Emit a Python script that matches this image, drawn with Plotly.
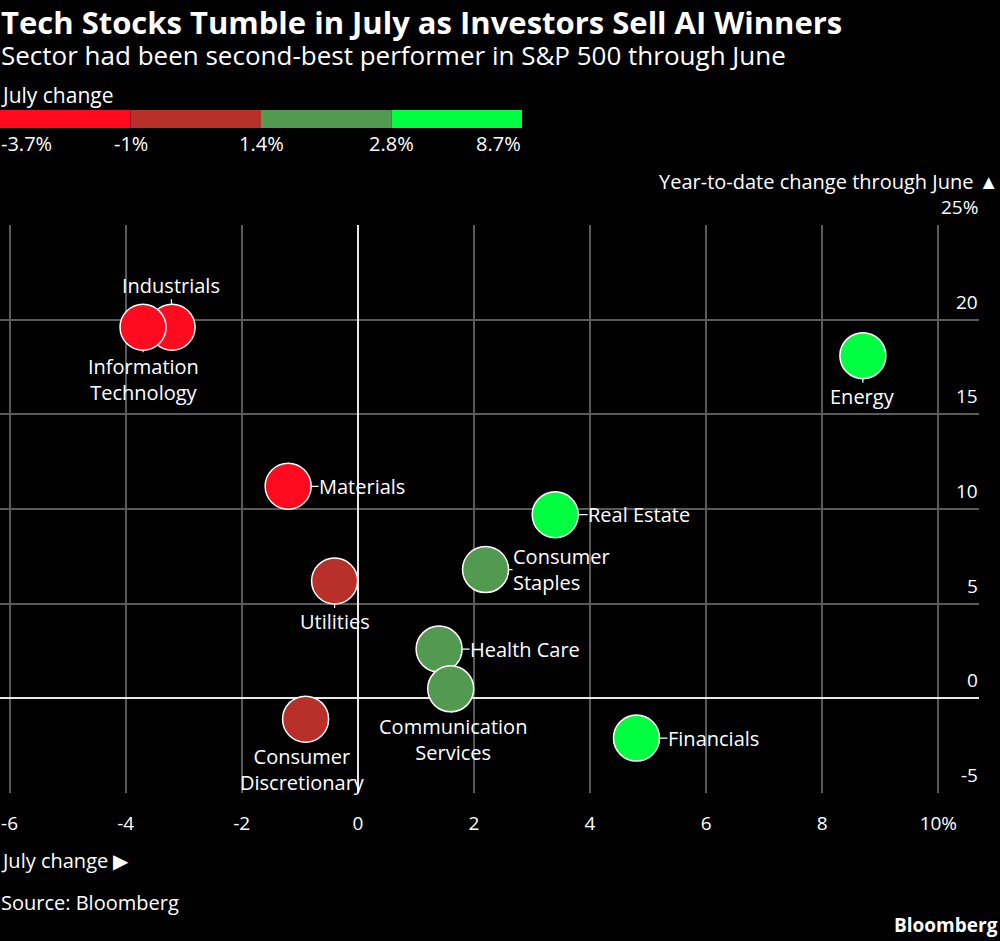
import plotly.graph_objects as go

# ---------------- data ----------------
sectors = ["Industrials", "Information Technology", "Energy", "Materials", "Real Estate",
           "Consumer Staples", "Utilities", "Health Care", "Communication Services",
           "Consumer Discretionary", "Financials"]
july_change = [-3.2, -3.7, 8.7, -1.2, 3.4, 2.2, -0.4, 1.4, 1.6, -0.9, 4.8]
ytd_june = [19.6, 19.6, 18.1, 11.2, 9.7, 6.8, 6.2, 2.6, 0.5, -1.1, -2.1]

bin_edges = [-3.7, -1, 1.4, 2.8, 8.7]
bin_labels = ["-3.7%", "-1%", "1.4%", "2.8%", "8.7%"]
bin_colors = ["#ff0a1e", "#b9302b", "#529a4f", "#00ff41"]

x_ticks = [-6, -4, -2, 0, 2, 4, 6, 8, 10]
x_ticktext = ["-6", "-4", "-2", "0", "2", "4", "6", "8", "10%"]
y_ticks = [-5, 0, 5, 10, 15, 20, 25]
y_ticktext = ["-5", "0", "5", "10", "15", "20", "25%"]

title = "Tech Stocks Tumble in July as Investors Sell AI Winners"
subtitle = "Sector had been second-best performer in S&P 500 through June"

# ---------------- styling / layout ----------------
FONT = "Open Sans"
W, H = 1000, 941
ML, MR, MT, MB = 0, 21, 225, 148
PW, PH = W - ML - MR, H - MT - MB

def px(xp):
    return (xp - ML) / PW

def py(yp):
    return (H - MB - yp) / PH

def color_for(v):
    for i in range(len(bin_colors)):
        if v < bin_edges[i + 1] or i == len(bin_colors) - 1:
            return bin_colors[i]

marker_colors = [color_for(v) for v in july_change]

# label placements (pixel offsets from the bubble centre)
label_layout = {
    "Industrials": dict(text="Industrials", ax=-1, ay=-42, align="center"),
    "Information Technology": dict(text="Information<br>Technology", ax=0, ay=52, align="center"),
    "Energy": dict(text="Energy", ax=0, ay=41, align="center"),
    "Materials": dict(text="Materials", ax=74, ay=0, align="left"),
    "Real Estate": dict(text="Real Estate", ax=84, ay=0, align="left"),
    "Consumer Staples": dict(text="Consumer<br>Staples", ax=76, ay=0, align="left"),
    "Utilities": dict(text="Utilities", ax=0, ay=41, align="center"),
    "Health Care": dict(text="Health Care", ax=86, ay=0, align="left"),
    "Communication Services": dict(text="Communication<br>Services", ax=2, ay=51, align="center"),
    "Consumer Discretionary": dict(text="Consumer<br>Discretionary", ax=-3, ay=50, align="center"),
    "Financials": dict(text="Financials", ax=77, ay=0, align="left"),
}

fig = go.Figure()
fig.add_trace(go.Scatter(
    x=july_change, y=ytd_june, mode="markers",
    marker=dict(size=46, color=marker_colors, line=dict(color="white", width=1.5), opacity=1),
    text=sectors, hoverinfo="text", showlegend=False, cliponaxis=False,
))

annotations = []
for s, xv, yv in zip(sectors, july_change, ytd_june):
    L = label_layout[s]
    annotations.append(dict(
        x=xv, y=yv, xref="x", yref="y", text=L["text"], showarrow=True,
        ax=L["ax"], ay=L["ay"], arrowhead=0, arrowwidth=1.2, arrowcolor="white",
        standoff=23, align=L["align"], borderpad=0,
        font=dict(family=FONT, size=20, color="white"),
    ))

# y tick labels (above the grid lines, right aligned)
for v, t in zip(y_ticks, y_ticktext):
    annotations.append(dict(
        x=1, y=v, xref="paper", yref="y", text=t, showarrow=False,
        xanchor="right", yanchor="middle", yshift=18, borderpad=0,
        font=dict(family=FONT, size=19, color="white"),
    ))

def text_ann(text, xp, yp, xanchor="left", size=20, bold=False, yanchor="middle"):
    if bold:
        text = "<b>" + text + "</b>"
    return dict(x=px(xp), y=py(yp), xref="paper", yref="paper", text=text,
                showarrow=False, xanchor=xanchor, yanchor=yanchor, borderpad=0,
                align="left", font=dict(family=FONT, size=size, color="white"))

header = ("<b><span style='font-size:31px'>" + title + "</span></b><br>"
          "<span style='font-size:26px'>" + subtitle + "</span>")

annotations += [
    text_ann(header, 0, 0, size=24, yanchor="top"),
    text_ann("July change", 0, 95, size=21),
    text_ann("Year-to-date change through June ▲", 999, 181, xanchor="right"),
    text_ann("July change ▶", 0, 860),
    text_ann("Source: Bloomberg", 0, 902),
    text_ann("Bloomberg", 999, 925, xanchor="right", size=19, bold=True),
]

# colour key
shapes = []
seg_w = 522 / len(bin_colors)
for i, c in enumerate(bin_colors):
    shapes.append(dict(type="rect", xref="paper", yref="paper",
                       x0=px(i * seg_w), x1=px((i + 1) * seg_w), y0=py(128), y1=py(110),
                       fillcolor=c, line=dict(width=0), layer="above"))
for i, t in enumerate(bin_labels):
    xa = "left" if i == 0 else ("right" if i == len(bin_labels) - 1 else "center")
    annotations.append(text_ann(t, i * seg_w, 143, xanchor=xa))

fig.update_layout(
    width=W, height=H, autosize=False,
    margin=dict(l=ML, r=MR, t=MT, b=MB, pad=0),
    paper_bgcolor="black", plot_bgcolor="black",
    font=dict(family=FONT, color="white", size=19),
    annotations=annotations, shapes=shapes, showlegend=False,
    xaxis=dict(range=[-6.164, 10.70], tickvals=x_ticks, ticktext=x_ticktext,
               showgrid=True, gridcolor="#5a5a5a", gridwidth=1.5,
               zeroline=True, zerolinecolor="#e8e8e8", zerolinewidth=1.5,
               showline=False, ticks="", ticklabelstandoff=17,
               tickfont=dict(family=FONT, size=19, color="white"), fixedrange=True),
    yaxis=dict(range=[-5, 25], tickvals=y_ticks, showticklabels=False,
               showgrid=True, gridcolor="#5a5a5a", gridwidth=1.5,
               zeroline=True, zerolinecolor="#e8e8e8", zerolinewidth=1.5,
               showline=False, ticks="", fixedrange=True),
)

fig.write_html("out.html")
